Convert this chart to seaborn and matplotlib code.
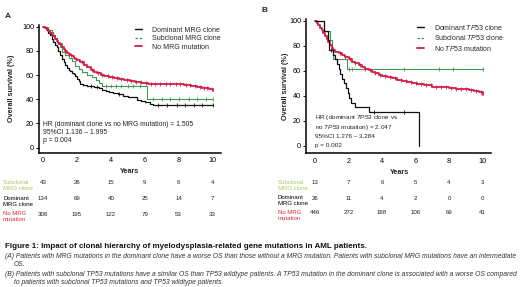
import numpy as np
import pandas as pd
import matplotlib
matplotlib.use("Agg")
import matplotlib.pyplot as plt
from matplotlib.lines import Line2D
from matplotlib.transforms import blended_transform_factory
import seaborn as sns

# ---------------- data ----------------
years_ticks = [0, 2, 4, 6, 8, 10]
surv_ticks = [0, 20, 40, 60, 80, 100]

# Panel A
a_dom_t = [0, 0.15, 0.3, 0.4, 0.5, 0.6, 0.7, 0.8, 0.9, 1.0, 1.1, 1.2, 1.3, 1.4, 1.5, 1.6, 1.7, 1.8, 1.9, 2.0,
           2.1, 2.2, 2.35, 2.6, 3.0, 3.3, 3.5, 3.7, 3.9, 4.1, 4.4, 4.7, 5.0, 5.55, 5.8, 6.0, 6.3, 6.5, 10.0]
a_dom_s = [100, 98, 95, 93, 90, 87.5, 85, 83, 80, 76.5, 73, 70.5, 68, 66, 64.5, 63.5, 62, 61, 59, 57,
           55, 53, 51.5, 51, 50.5, 49.5, 48, 47, 46, 45, 44, 43, 42, 39.5, 38.5, 37.5, 36.5, 35, 35]
a_dom_c = [2.8, 3.2, 4.5, 6.8, 7.3, 7.9, 8.4, 8.9, 9.4, 10.0]

a_sub_t = [0, 0.3, 0.5, 0.6, 0.7, 0.8, 0.9, 1.0, 1.1, 1.3, 1.5, 1.7, 1.9, 2.1, 2.3, 2.6, 2.9, 3.1, 3.3, 3.45, 6.15, 10.0]
a_sub_s = [100, 97.7, 95.3, 93, 90.7, 88.4, 86, 83.7, 79, 76.7, 74.4, 72, 67.4, 65, 62.8, 60.5, 58.1, 55.8, 53.5, 51.2, 40.2, 40.2]
a_sub_c = [3.7, 4.0, 4.3, 4.6, 5.0, 5.3, 5.7, 6.5, 7.0, 7.5, 8.0, 8.6, 9.1, 9.6, 10.0]

a_no_t = [0, 0.1, 0.2, 0.3, 0.4, 0.5, 0.6, 0.7, 0.8, 0.9, 1.0, 1.1, 1.2, 1.3, 1.4, 1.5, 1.6, 1.7, 1.8, 1.9, 2.0,
          2.2, 2.4, 2.6, 2.8, 3.0, 3.2, 3.4, 3.6, 3.9, 4.2, 4.5, 4.8, 5.1, 5.4, 5.8, 6.2, 7.0, 7.8, 8.3, 8.7,
          9.1, 9.4, 9.8, 10.0]
a_no_s = [100, 99, 97.5, 96.5, 95, 93.5, 92, 90, 88.5, 87, 85.5, 83.5, 81.5, 80, 78.5, 77.5, 76.5, 75.5, 74.5, 73.5, 72.5,
          70.5, 68.5, 66.5, 64.5, 62.5, 61.5, 60.5, 59.5, 58.5, 58, 57, 56, 55.5, 54.5, 53.5, 53, 52.8, 52.5, 51.8, 51,
          50.3, 49.5, 48.8, 46.5]
a_no_c = [1.3, 1.65, 1.95, 2.3, 2.55, 2.9, 3.25, 3.5, 3.8, 4.05, 4.35, 4.6, 4.95, 5.2, 5.5, 5.75, 6.05, 6.35, 6.6,
          6.9, 7.25, 7.5, 7.85, 8.1, 8.45, 8.65, 8.95, 9.25, 9.5, 9.7, 9.95]

# Panel B
b_dom_t = [0, 0.55, 0.75, 0.85, 1.05, 1.2, 1.3, 1.4, 1.5, 1.6, 1.7, 1.85, 1.95, 2.05, 2.15, 2.4, 3.2, 6.2]
b_dom_s = [100, 92.3, 84.6, 76.9, 73.1, 69.2, 65.4, 61.5, 57.7, 53.8, 50.0, 46.2, 42.3, 38.5, 34.6, 30.8, 27.5, 0]
b_dom_c = [0.95, 3.5, 5.3]

b_sub_t = [0, 0.55, 0.9, 1.0, 1.1, 1.9, 10.0]
b_sub_s = [100, 92.3, 84.6, 76.9, 69.2, 61.5, 61.5]
b_sub_c = [2.05, 2.2, 5.3, 7.4, 8.25, 10.0]

b_no_t = [0, 0.1, 0.2, 0.3, 0.4, 0.5, 0.6, 0.7, 0.8, 0.9, 1.0, 1.1, 1.2, 1.4, 1.6, 1.8, 2.0, 2.2, 2.4, 2.6, 2.8,
          3.0, 3.2, 3.4, 3.6, 3.8, 4.0, 4.3, 4.6, 4.9, 5.2, 5.5, 5.8, 6.1, 6.5, 7.0, 7.5, 8.0, 8.4, 8.8, 9.2,
          9.5, 9.8, 10.0]
b_no_s = [100, 98.5, 96.5, 94.5, 92.5, 90, 88, 85.5, 83, 80.5, 78.5, 77, 75.5, 74, 72.5, 71, 69.5, 67.5, 66, 64.5, 63,
          61.5, 60.5, 59, 58, 57, 56, 55, 54, 53, 52, 51, 50, 49.3, 48.5, 47.5, 47, 46.3, 45.8, 45.3, 44.8,
          44, 43, 41]
b_no_c = [1.5, 1.8, 2.1, 2.4, 2.7, 3.0, 3.3, 3.6, 3.9, 4.2, 4.5, 4.8, 5.1, 5.4, 5.7, 6.0, 6.3, 6.6, 6.9, 7.2,
          7.5, 7.8, 8.1, 8.4, 8.7, 9.0, 9.3, 9.6, 9.9]

# numbers at risk (rows: subclonal, dominant, no mutation)
a_risk_sub = [43, 26, 15, 9, 6, 4]
a_risk_dom = [134, 69, 40, 25, 14, 7]
a_risk_no = [308, 195, 122, 79, 53, 33]
b_risk_sub = [13, 7, 6, 5, 4, 3]
b_risk_dom = [26, 11, 4, 2, 0, 0]
b_risk_no = [446, 272, 168, 106, 69, 41]

risk_labels = ["Subclonal\nMRG clone", "Dominant\nMRG clone", "No MRG\nmutation"]
a_legend = ["Dominant MRG clone", "Subclonal MRG clone", "No MRG mutation"]
b_legend = ["Dominant $\\mathit{TP53}$ clone", "Subclonal $\\mathit{TP53}$ clone", "No $\\mathit{TP53}$ mutation"]

a_hr = ["HR (dominant clone vs no MRG mutation) = 1.505", "95%CI 1.136 – 1.995", "p = 0.004"]
b_hr = ["HR (dominant $\\mathit{TP53}$ clone vs", "no $\\mathit{TP53}$ mutation) = 2.047",
        "95%CI 1.276 – 3.284", "p = 0.002"]

cap_title = "Figure 1: Impact of clonal hierarchy of myelodysplasia-related gene mutations in AML patients."
cap_lines = [
    "(A) Patients with MRG mutations in the dominant clone have a worse OS than those without a MRG mutation. Patients with subclonal MRG mutations have an intermediate",
    "OS.",
    "(B) Patients with subclonal TP53 mutations have a similar OS than TP53 wildtype patients. A TP53 mutation in the dominant clone is associated with a worse OS compared",
    "to patients with subclonal TP53 mutations and TP53 wildtype patients.",
]

# ---------------- style ----------------
sns.set_style("white")
plt.rcParams["font.family"] = ["Liberation Sans", "DejaVu Sans"]
plt.rcParams["mathtext.fontset"] = "custom"
plt.rcParams["mathtext.rm"] = "Liberation Sans"
plt.rcParams["mathtext.it"] = "Liberation Sans:italic"
plt.rcParams["mathtext.bf"] = "Liberation Sans:bold"

C_DOM = "#111111"
C_SUB = "#3f9a55"
C_NO = "#d41c46"
C_SUB_LBL = "#a9c85a"
C_NO_LBL = "#d62a3a"

W, H = 520, 287
fig = plt.figure(figsize=(W / 100, H / 100), dpi=100)


def fx(px):
    return px / W


def fy(py):
    return 1 - py / H


def km_line(ax, t, s, color, lw):
    df = pd.DataFrame({"t": t, "s": s})
    sns.lineplot(data=df, x="t", y="s", drawstyle="steps-post", estimator=None, sort=False,
                 color=color, linewidth=lw, ax=ax, legend=False)


def censor(ax, t, s, ct, color):
    idx = np.searchsorted(np.asarray(t), np.asarray(ct), side="right") - 1
    ys = np.asarray(s)[idx]
    sns.scatterplot(x=ct, y=ys, marker="|", s=9, color=color, linewidth=0.6, ax=ax, legend=False, zorder=5)


def setup_axes(ax, xlim, ylim):
    ax.set_xlim(*xlim)
    ax.set_ylim(*ylim)
    ax.set_xticks(years_ticks)
    ax.set_yticks(surv_ticks)
    sns.despine(ax=ax)
    for sp in ("left", "bottom"):
        ax.spines[sp].set_linewidth(1.1)
        ax.spines[sp].set_color("black")
    ax.tick_params(axis="both", length=2, width=0.7, labelsize=5.2, pad=1.5, colors="black",
                   left=True, bottom=False)
    ax.set_xlabel("Years", fontsize=5.2, fontweight="bold")
    ax.set_ylabel("Overall survival (%)", fontsize=5.2, fontweight="bold")
    ax.set_facecolor("none")


def risk_table(ax, rows, label_px, ys_px):
    tr = blended_transform_factory(ax.transData, fig.transFigure)
    colors = [C_SUB_LBL, "black", C_NO_LBL]
    for vals, lab, col, ypx in zip(rows, risk_labels, colors, ys_px):
        for x, v in zip(years_ticks, vals):
            ax.text(x, fy(ypx), str(v), transform=tr, ha="center", va="center", fontsize=4.4, color="#222222")
        fig.text(fx(label_px), fy(ypx - 3), lab, ha="left", va="top", fontsize=4.3, color=col,
                 linespacing=1.15)


def legend(ax, labels, xpx, ypx):
    handles = [Line2D([], [], color=C_DOM, lw=1.0),
               Line2D([], [], color=C_SUB, lw=0.9, ls=(0, (2, 1.2))),
               Line2D([], [], color=C_NO, lw=1.3)]
    ax.legend(handles=handles, labels=labels, loc="upper left", bbox_to_anchor=(fx(xpx), fy(ypx)),
              bbox_transform=fig.transFigure, frameon=False, fontsize=5, handlelength=1.0,
              handletextpad=1.5, labelspacing=0.22, borderaxespad=0, borderpad=0)


def hr_text(lines, xpx, ys_px, size):
    for line, ypx in zip(lines, ys_px):
        fig.text(fx(xpx), fy(ypx), line, ha="left", va="center", fontsize=size, color="#222222")


# ---------------- panel A ----------------
axA = fig.add_axes([fx(39), fy(152.5), fx(221) - fx(39), fy(25) - fy(152.5)])
km_line(axA, a_sub_t, a_sub_s, C_SUB, 0.8)
km_line(axA, a_dom_t, a_dom_s, C_DOM, 0.9)
km_line(axA, a_no_t, a_no_s, C_NO, 1.3)
censor(axA, a_sub_t, a_sub_s, a_sub_c, C_SUB)
censor(axA, a_dom_t, a_dom_s, a_dom_c, C_DOM)
censor(axA, a_no_t, a_no_s, a_no_c, C_NO)
setup_axes(axA, (-0.25, 10.5), (-4, 101.5))
axA.xaxis.set_label_coords(0.5, -0.12)
axA.yaxis.set_label_coords(-0.13, 0.5)
legend(axA, a_legend, 135, 26.5)
hr_text(a_hr, 43, [124, 132, 140.5], 4.9)
risk_table(axA, [a_risk_sub, a_risk_dom, a_risk_no], 3, [183, 199, 214])
fig.text(fx(8), fy(16), "A", fontsize=6, fontweight="bold", ha="center", va="center")

# ---------------- panel B ----------------
axB = fig.add_axes([fx(306), fy(153), fx(491) - fx(306), fy(19) - fy(153)])
km_line(axB, b_sub_t, b_sub_s, C_SUB, 0.8)
km_line(axB, b_no_t, b_no_s, C_NO, 1.3)
km_line(axB, b_dom_t, b_dom_s, C_DOM, 0.9)
censor(axB, b_sub_t, b_sub_s, b_sub_c, C_SUB)
censor(axB, b_dom_t, b_dom_s, b_dom_c, C_DOM)
censor(axB, b_no_t, b_no_s, b_no_c, C_NO)
setup_axes(axB, (-0.54, 10.5), (-5.6, 101.5))
axB.xaxis.set_label_coords(0.503, -0.12)
axB.yaxis.set_label_coords(-0.09, 0.5)
legend(axB, b_legend, 417, 22.5)
hr_text(b_hr, 315, [117.6, 127.4, 136.6, 145], 4.6)
risk_table(axB, [b_risk_sub, b_risk_dom, b_risk_no], 278, [183, 198, 213])
fig.text(fx(264), fy(11), "B", fontsize=6, fontweight="bold", ha="center", va="center")

# ---------------- caption ----------------
fig.text(fx(5), fy(247), cap_title, fontsize=5.8, fontweight="bold", ha="left", va="center", color="#111111")
cap_pos = [(5, 257), (14, 265), (5, 274), (14, 282)]
for (xp, yp), line in zip(cap_pos, cap_lines):
    fig.text(fx(xp), fy(yp), line, fontsize=4.85, style="italic", ha="left", va="center", color="#333333")

fig.savefig("out.png", dpi=100)
